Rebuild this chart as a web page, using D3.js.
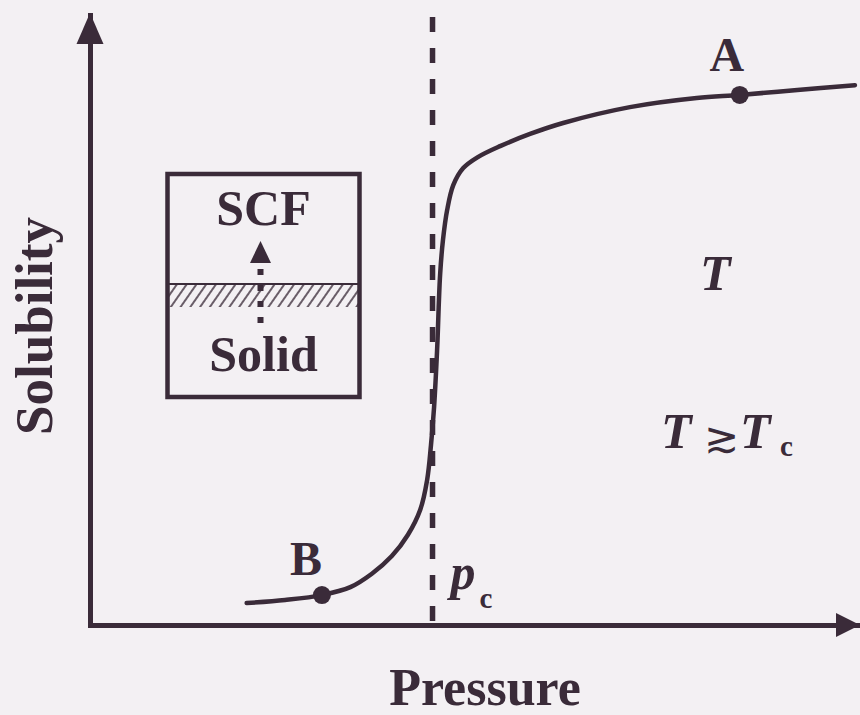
<!DOCTYPE html>
<html>
<head>
<meta charset="utf-8">
<script src="https://cdn.jsdelivr.net/npm/d3@7"></script>
<style>
  html, body { margin: 0; padding: 0; background: #f3f0f3; }
  svg { display: block; }
</style>
</head>
<body>
<svg id="chart" width="860" height="715"></svg>
<script>
// Solubility isotherm of a solid in a supercritical fluid (arbitrary units, 0-100)
const pressure   = [20.4, 25.4, 30.2, 33.9, 36.7, 39.3, 41.4, 43.0, 43.9, 44.4, 44.8, 45.05, 45.25, 45.4, 45.6, 45.96, 46.5, 47.3, 48.6, 50.5, 53.4, 57.3, 61.6, 70.3, 79.0, 84.6, 92.1, 99.6];
const solubility = [3.6, 4.1, 4.9, 6.2, 8.4, 11.3, 14.8, 18.9, 23.8, 29.5, 35.7, 41.3, 46.7, 52.1, 57.7, 63.1, 68.0, 72.1, 74.9, 76.7, 78.5, 80.5, 82.3, 84.9, 86.4, 86.9, 87.7, 88.5];

// Marked states on the isotherm
const pointLabels     = ["B", "A"];
const pointPressure   = [30.2, 84.6];
const pointSolubility = [4.9, 86.9];

// Critical pressure
const criticalPressure = 44.6;

// Axis titles
const xTitle = "Pressure";
const yTitle = "Solubility";

const ink = "#3a2b39";
const SERIF = "Liberation Serif";

const svg = d3.select("#chart");
const W = 860, H = 715;
const margin = { left: 90, right: 2, top: 15, bottom: 90 };

const x = d3.scaleLinear().domain([0, 100]).range([margin.left, W - margin.right]);
const y = d3.scaleLinear().domain([0, 100]).range([H - margin.bottom, margin.top]);

// text helper: serif, bold, ink-coloured
function label(parent, str, px, py, size, opts = {}) {
  return parent.append("text")
    .attr("x", px).attr("y", py)
    .attr("fill", ink)
    .attr("text-anchor", opts.anchor || "start")
    .style("font-family", SERIF)
    .style("font-weight", opts.weight || "bold")
    .style("font-style", opts.italic ? "italic" : "normal")
    .style("font-size", size + "px")
    .text(str);
}

svg.append("rect").attr("width", W).attr("height", H).attr("fill", "#f3f0f3");

// Axes: bare domain lines, no ticks
const gx = svg.append("g")
  .attr("transform", `translate(0,${y(0)})`)
  .call(d3.axisBottom(x).tickValues([]).tickSizeOuter(0));
const gy = svg.append("g")
  .attr("transform", `translate(${x(0)},0)`)
  .call(d3.axisLeft(y).tickValues([]).tickSizeOuter(0));
[gx, gy].forEach(g => g.select(".domain")
  .attr("stroke", ink).attr("stroke-width", 5).attr("stroke-linecap", "square"));

// Arrowheads at the axis ends
const x0 = x(0), y0 = y(0), xEnd = x(100), yEnd = y(100);
svg.append("path")
  .attr("d", `M${x0},${yEnd - 2}L${x0 - 13.5},${yEnd + 29}L${x0 + 13.5},${yEnd + 29}Z`)
  .attr("fill", ink);
svg.append("path")
  .attr("d", `M${xEnd + 2},${y0}L${xEnd - 22},${y0 - 12}L${xEnd - 22},${y0 + 12}Z`)
  .attr("fill", ink);

// Critical pressure line
svg.append("line")
  .attr("x1", x(criticalPressure)).attr("x2", x(criticalPressure))
  .attr("y1", yEnd + 2).attr("y2", y0)
  .attr("stroke", ink).attr("stroke-width", 5.5)
  .attr("stroke-dasharray", "15 16");

// Isotherm
const curve = d3.line()
  .x((d, i) => x(pressure[i]))
  .y((d, i) => y(solubility[i]))
  .curve(d3.curveCatmullRom.alpha(0.5));
svg.append("path")
  .attr("d", curve(pressure))
  .attr("fill", "none")
  .attr("stroke", ink)
  .attr("stroke-width", 4.5)
  .attr("stroke-linejoin", "round")
  .attr("stroke-linecap", "round");

// Marked points and their letters
svg.selectAll("circle.pt")
  .data(pointLabels)
  .join("circle")
  .attr("class", "pt")
  .attr("cx", (d, i) => x(pointPressure[i]))
  .attr("cy", (d, i) => y(pointSolubility[i]))
  .attr("r", 9)
  .attr("fill", ink);

const labelOffset = { A: [-13, -24], B: [-16, -20] };
pointLabels.forEach((d, i) => {
  label(svg, d,
    x(pointPressure[i]) + labelOffset[d][0],
    y(pointSolubility[i]) + labelOffset[d][1],
    48, { anchor: "middle" });
});

// Axis titles
label(svg, xTitle, 485, 705, 52, { anchor: "middle" });
label(svg, yTitle, 0, 0, 53, { anchor: "middle" })
  .attr("transform", "translate(52,326) rotate(-90)");

// p_c label next to the critical line
label(svg, "p", x(criticalPressure) + 18, 589, 50, { italic: true });
label(svg, "c", x(criticalPressure) + 47, 608, 29);

// Temperature annotations
label(svg, "T", 700, 290, 50, { italic: true });
label(svg, "T", 661, 448, 50, { italic: true });
label(svg, "\u2273", 704, 452, 42, { weight: "normal" });
label(svg, "T", 740, 448, 50, { italic: true });
label(svg, "c", 780, 456, 29);

// Inset: solid dissolving into the supercritical fluid
const box = { x0: 167.5, x1: 359.5, y0: 174, y1: 397, band0: 284, band1: 307 };
const cx = 260.5;

const defs = svg.append("defs");
defs.append("pattern")
  .attr("id", "hatch")
  .attr("patternUnits", "userSpaceOnUse")
  .attr("width", 8).attr("height", 8)
  .attr("patternTransform", "rotate(35)")
  .append("line")
  .attr("x1", 4).attr("x2", 4).attr("y1", 0).attr("y2", 8)
  .attr("stroke", ink).attr("stroke-width", 1.5);

svg.append("rect")
  .attr("x", box.x0).attr("y", box.band0)
  .attr("width", box.x1 - box.x0).attr("height", box.band1 - box.band0)
  .attr("fill", "url(#hatch)");
svg.append("line")
  .attr("x1", box.x0).attr("x2", box.x1)
  .attr("y1", box.band0).attr("y2", box.band0)
  .attr("stroke", ink).attr("stroke-width", 2);

svg.append("rect")
  .attr("x", box.x0).attr("y", box.y0)
  .attr("width", box.x1 - box.x0).attr("height", box.y1 - box.y0)
  .attr("fill", "none").attr("stroke", ink).attr("stroke-width", 4.5);

// dotted arrow
[272, 288, 304, 320].forEach(cy => {
  svg.append("rect")
    .attr("x", cx - 3).attr("y", cy - 3)
    .attr("width", 6).attr("height", 6)
    .attr("fill", ink);
});
svg.append("path")
  .attr("d", `M${cx},241L${cx - 10.5},263L${cx + 10.5},263Z`)
  .attr("fill", ink);

label(svg, "SCF", cx + 3, 225, 50, { anchor: "middle" });
label(svg, "Solid", cx + 3, 371, 50, { anchor: "middle" });
</script>
</body>
</html>
